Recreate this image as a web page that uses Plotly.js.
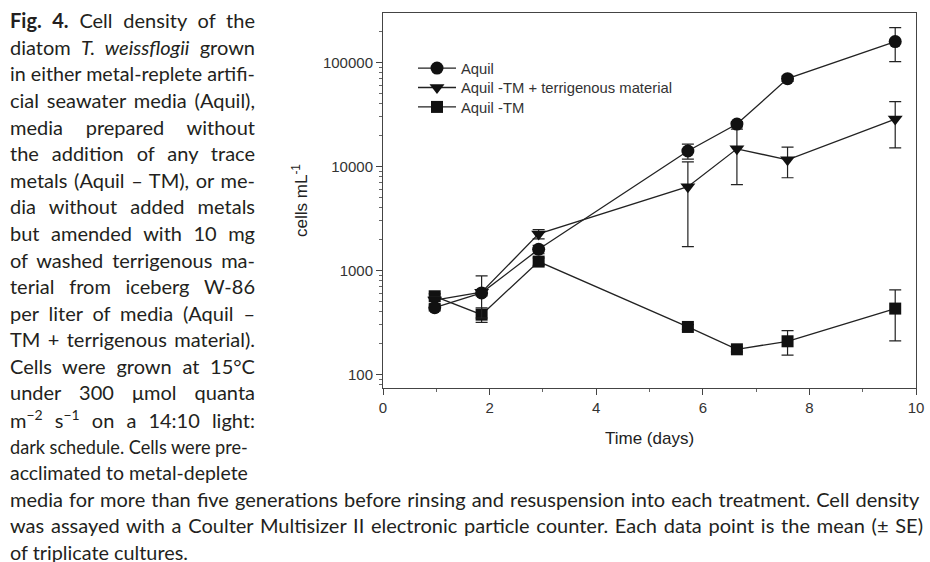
<!DOCTYPE html>
<html><head><meta charset="utf-8">
<script src="https://cdn.plot.ly/plotly-3.0.1.min.js"></script>
<style>html,body{margin:0;padding:0;background:#fff;} #chart{width:930px;height:562px;}</style>
</head><body><div id="chart"></div>
<script>
// ---- data ----
const days = [0.97, 1.85, 2.92, 5.72, 6.64, 7.59, 9.61];
const aquil = [440, 610, 1600, 14100, 25600, 70000, 159000];
const aquilErr = [30, 40, 150, 2300, 1500, 4000, 57000];
const tmTerr = [520, 620, 2250, 6400, 14800, 11600, 28600];
const tmTerrErr = [40, 270, 230, 4700, 8100, 3800, 13500];
const tm = [566, 377, 1220, 287, 175, 209, 431];
const tmErr = [30, 60, 100, 15, 10, 55, 220];
const seriesNames = ['Aquil', 'Aquil -TM + terrigenous material', 'Aquil -TM'];
const yTickVals = [100, 1000, 10000, 100000];
const yTickText = ['100', '1000', '10000', '100000'];
const yMinorVals = [80, 90, 200, 300, 400, 500, 600, 700, 800, 900, 2000, 3000, 4000, 5000, 6000, 7000, 8000, 9000,
  20000, 30000, 40000, 50000, 60000, 70000, 80000, 90000, 200000];
const xTitle = 'Time (days)';
const yTitle = 'cells mL<sup>-1</sup>';
const captionLines = [
  '<b>Fig. 4.</b> Cell density of the',
  'diatom <i>T. weissflogii</i> grown',
  'in either metal-replete artifi-',
  'cial seawater media (Aquil),',
  'media prepared without',
  'the addition of any trace',
  'metals (Aquil – TM), or me-',
  'dia without added metals',
  'but amended with 10 mg',
  'of washed terrigenous ma-',
  'terial from iceberg W-86',
  'per liter of media (Aquil –',
  'TM + terrigenous material).',
  'Cells were grown at 15°C',
  'under 300 μmol quanta',
  'm<sup>−2</sup> s<sup>−1</sup> on a 14:10 light:',
  'dark schedule. Cells were pre-',
  'acclimated to metal-deplete',
  'media for more than five generations before rinsing and resuspension into each treatment. Cell density',
  'was assayed with a Coulter Multisizer II electronic particle counter. Each data point is the mean (± SE)',
  'of triplicate cultures.'
];

// ---- layout helpers ----
const W = 930, H = 562, M = {l: 383, r: 14, t: 13, b: 174};
const PW = W - M.l - M.r, PH = H - M.t - M.b;
const px2x = px => (px - M.l) / PW;
const px2y = py => (H - M.b - py) / PH;
const captionWidths = captionLines.map((_, i) => i < 16 ? 245 : i < 18 ? 238 : i === 18 ? 910 : i === 19 ? 913 : 178);
const captionLeft = 10;

const lineCol = '#222', markCol = '#111';
function mk(name, y, err, symbol, size) {
  return {
    x: days, y: y, name: name, type: 'scatter', mode: 'lines+markers',
    line: {color: lineCol, width: 1.3},
    marker: {symbol: symbol, size: size, color: markCol},
    error_y: {type: 'data', array: err, visible: true, color: lineCol, thickness: 1.2, width: 6}
  };
}
const traces = [
  mk(seriesNames[2], tm, tmErr, 'square', 12),
  mk(seriesNames[1], tmTerr, tmTerrErr, 'triangle-down', 13),
  mk(seriesNames[0], aquil, aquilErr, 'circle', 13)
];

const axFont = {family: 'Liberation Sans, Arial, sans-serif', size: 15, color: '#333'};
const annotations = captionLines.map((t, i) => ({
  text: t, xref: 'paper', yref: 'paper', showarrow: false,
  x: px2x(captionLeft), y: px2y(20.3 + i * 26.58), xanchor: 'left', yanchor: 'middle', align: 'left',
  font: {family: 'Lato, Open Sans, sans-serif', size: 20, color: '#231f20'}
}));

const layout = {
  width: W, height: H, margin: M, paper_bgcolor: '#fff', plot_bgcolor: '#fff',
  showlegend: true,
  legend: {x: px2x(413), y: px2y(52), xanchor: 'left', yanchor: 'top', traceorder: 'reversed',
    font: {family: 'Liberation Sans, Arial, sans-serif', size: 14.8, color: '#333'}, bgcolor: 'rgba(0,0,0,0)', itemwidth: 38},
  xaxis: {
    range: [0, 10], dtick: 2, tick0: 0, showgrid: false, zeroline: false,
    showline: true, mirror: true, linecolor: '#444', linewidth: 1,
    ticks: 'outside', ticklen: 6, tickcolor: '#444', tickfont: axFont,
    minor: {dtick: 1, tick0: 0, ticks: 'outside', ticklen: 3, tickcolor: '#666', showgrid: false},
    title: {text: xTitle, font: {family: 'Liberation Sans, Arial, sans-serif', size: 17, color: '#222'}, standoff: 17}
  },
  yaxis: {
    type: 'log', range: [1.871, 5.476], tickmode: 'array', tickvals: yTickVals, ticktext: yTickText,
    showgrid: false, zeroline: false, showline: true, mirror: true, linecolor: '#444', linewidth: 1,
    ticks: 'outside', ticklen: 6, tickcolor: '#444', tickfont: axFont,
    minor: {tickmode: 'array', tickvals: yMinorVals, ticks: 'outside', ticklen: 3, tickcolor: '#666', showgrid: false},
    title: {text: yTitle, font: {family: 'Liberation Sans, Arial, sans-serif', size: 17, color: '#222'}, standoff: 10}
  },
  annotations: annotations
};

function fitCaption(gd) {
  captionWidths.forEach((w, i) => {
    const t = gd.querySelector('.annotation[data-index="' + i + '"] text.annotation-text');
    if (!t) return;
    const prev = t.getAttribute('transform') || '';
    const w0 = t.getBoundingClientRect().width;
    let sx = 1;
    if (w0 > w) {
      sx = w / w0;
    } else {
      const n = (t.textContent.match(/ /g) || []).length;
      if (n) t.style.wordSpacing = ((w - w0) / n).toFixed(2) + 'px';
    }
    t.setAttribute('transform', 'scale(' + sx + ',1) ' + prev);
    const r = t.getBoundingClientRect();
    t.setAttribute('transform', 'translate(' + (captionLeft - r.left).toFixed(2) + ',0) scale(' + sx + ',1) ' + prev);
  });
}
function tightenLegend(gd) {
  const items = Array.from(gd.querySelectorAll('.legend .traces'));
  const parse = el => {
    const m = /translate\(\s*([-\d.]+)[ ,]+([-\d.]+)/.exec(el.getAttribute('transform') || '');
    return m ? [parseFloat(m[1]), parseFloat(m[2])] : [0, 0];
  };
  items.sort((a, b) => parse(a)[1] - parse(b)[1]);
  if (!items.length) return;
  const y0 = parse(items[0])[1];
  items.forEach((el, k) => el.setAttribute('transform', 'translate(' + parse(el)[0] + ',' + (y0 + k * 19.4) + ')'));
}

Plotly.newPlot('chart', traces, layout, {staticPlot: true, responsive: false}).then(gd => {
  fitCaption(gd);
  tightenLegend(gd);
});
</script>
</body></html>
